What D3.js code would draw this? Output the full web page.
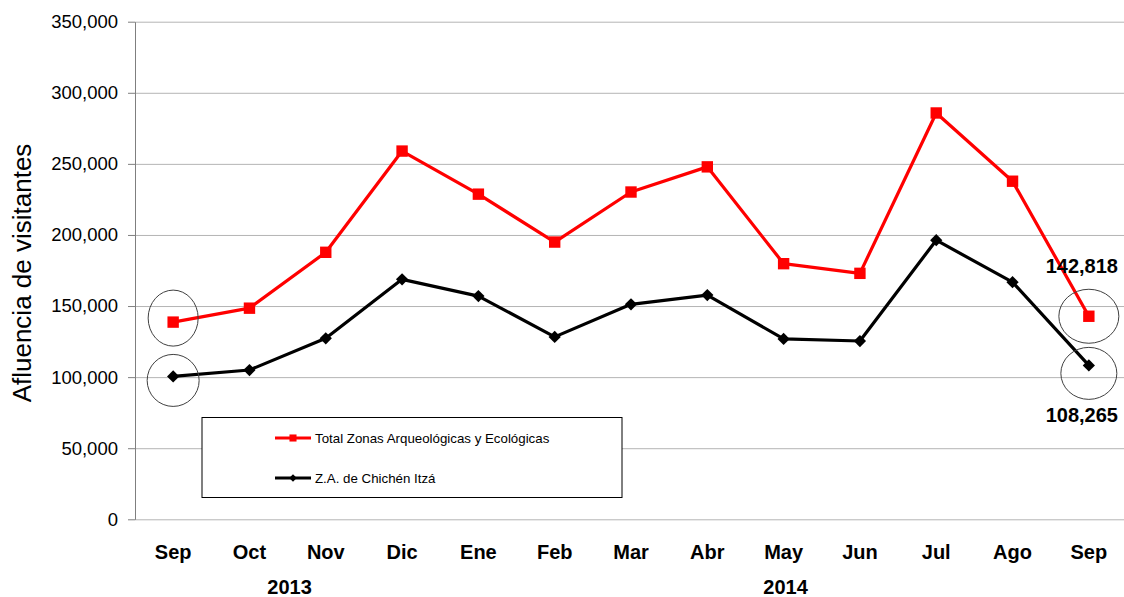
<!DOCTYPE html>
<html>
<head>
<meta charset="utf-8">
<script src="https://cdn.jsdelivr.net/npm/d3@7"></script>
<style>
  body { margin: 0; background: #fff; }
  text { font-family: "Liberation Sans", Arial, sans-serif; }
</style>
</head>
<body>
<div id="chart"></div>
<script>
// Data
let months = ['Sep', 'Oct', 'Nov', 'Dic', 'Ene', 'Feb', 'Mar', 'Abr', 'May', 'Jun', 'Jul', 'Ago', 'Sep']
let years = [
  { label: '2013', from: 0, to: 3 },
  { label: '2014', from: 4, to: 12 }
]
let total_zonas = [138700, 148500, 187800, 259000, 228700, 195000, 230200, 247900, 179800, 173000, 285800, 237800, 142818]
let chichen = [100500, 105000, 127300, 168800, 157000, 128300, 151200, 157700, 126900, 125400, 196300, 166800, 108265]
let y_ticks = [0, 50000, 100000, 150000, 200000, 250000, 300000, 350000]

let series = [
  { name: 'Total Zonas Arqueológicas y Ecológicas', values: total_zonas, color: '#ff0000', marker: 'square' },
  { name: 'Z.A. de Chichén Itzá', values: chichen, color: '#000000', marker: 'diamond' }
]

// circled points: series index, month index, and where the value label goes
let highlights = [
  { s: 0, i: 0, rx: 25, ry: 28, dy: -4, label: null },
  { s: 1, i: 0, rx: 26, ry: 26, dy: 4, label: null },
  { s: 0, i: 12, rx: 30, ry: 27, dy: 0, label: 'above' },
  { s: 1, i: 12, rx: 28, ry: 26, dy: 8, label: 'below' }
]

let width = 1124, height = 597
let plot_left = 135, plot_right = 1127, plot_top = 21.7, plot_bottom = 519.3

let svg = d3.select('#chart')
  .append('svg')
  .attr('width', width)
  .attr('height', height)

let x = d3.scaleBand()
  .domain(d3.range(months.length))
  .range([plot_left, plot_right])
  .padding(0)

let cx = i => x(i) + x.bandwidth() / 2

let y = d3.scaleLinear()
  .domain([0, 350000])
  .range([plot_bottom, plot_top])

let fmt = d3.format(',')

// gridlines
svg.append('g')
  .attr('transform', `translate(${plot_left},0)`)
  .call(d3.axisLeft(y).tickValues(y_ticks).tickSize(-(plot_right - plot_left)).tickFormat(''))
  .call(g => g.select('.domain').remove())
  .call(g => g.selectAll('line').attr('stroke', '#b4b4b4').attr('stroke-width', 1))

// y axis with labels
svg.append('g')
  .attr('transform', `translate(${plot_left},0)`)
  .call(d3.axisLeft(y).tickValues(y_ticks).tickSizeInner(7).tickSizeOuter(0).tickPadding(10).tickFormat(fmt))
  .call(g => g.select('.domain').attr('stroke', '#7f7f7f'))
  .call(g => g.selectAll('line').attr('stroke', '#7f7f7f'))
  .call(g => g.selectAll('text')
    .style('font-family', '"Liberation Sans", Arial, sans-serif')
    .style('font-size', '18.5px')
    .attr('fill', '#000'))

// x axis month labels
svg.append('g')
  .attr('transform', `translate(0,${plot_bottom})`)
  .call(d3.axisBottom(x).tickSize(0).tickPadding(26).tickFormat(i => months[i]))
  .call(g => g.select('.domain').remove())
  .call(g => g.selectAll('text')
    .style('font-family', '"Liberation Sans", Arial, sans-serif')
    .style('font-size', '20px')
    .style('font-weight', 'bold')
    .attr('fill', '#000'))

// year labels centred under their months
svg.selectAll('.year')
  .data(years)
  .enter()
  .append('text')
  .attr('class', 'year')
  .attr('x', d => (cx(d.from) + cx(d.to)) / 2 + 2)
  .attr('y', 594)
  .attr('text-anchor', 'middle')
  .style('font-size', '20px')
  .style('font-weight', 'bold')
  .text(d => d.label)

// y title
svg.append('text')
  .attr('transform', `translate(31,273) rotate(-90)`)
  .attr('text-anchor', 'middle')
  .style('font-size', '26px')
  .text('Afluencia de visitantes')

// lines and markers
let line = d3.line()
  .x((d, i) => cx(i))
  .y(d => y(d))

series.forEach(s => {
  svg.append('path')
    .datum(s.values)
    .attr('d', line)
    .attr('fill', 'none')
    .attr('stroke', s.color)
    .attr('stroke-width', 3.2)
    .attr('stroke-linejoin', 'round')

  let size = s.marker == 'square' ? 130 : 75
  let rot = s.marker == 'square' ? 0 : 45
  svg.selectAll(null)
    .data(s.values)
    .enter()
    .append('path')
    .attr('d', d3.symbol().type(d3.symbolSquare).size(size))
    .attr('transform', (d, i) => `translate(${cx(i)},${y(d)}) rotate(${rot})`)
    .attr('fill', s.color)
})

// circles around first and last values
svg.selectAll('.ring')
  .data(highlights)
  .enter()
  .append('ellipse')
  .attr('class', 'ring')
  .attr('cx', d => cx(d.i))
  .attr('cy', d => y(series[d.s].values[d.i]) + d.dy)
  .attr('rx', d => d.rx)
  .attr('ry', d => d.ry)
  .attr('fill', 'none')
  .attr('stroke', '#404040')
  .attr('stroke-width', 1)

svg.selectAll('.valuelabel')
  .data(highlights.filter(d => d.label))
  .enter()
  .append('text')
  .attr('class', 'valuelabel')
  .attr('x', d => cx(d.i) - 7)
  .attr('y', d => d.label == 'above' ? y(series[d.s].values[d.i]) - 43 : y(series[d.s].values[d.i]) + 57)
  .attr('text-anchor', 'middle')
  .style('font-size', '20px')
  .style('font-weight', 'bold')
  .text(d => fmt(series[d.s].values[d.i]))

// legend
let legend = svg.append('g')
legend.append('rect')
  .attr('x', 202)
  .attr('y', 417.5)
  .attr('width', 420)
  .attr('height', 80)
  .attr('fill', '#fff')
  .attr('stroke', '#000')
  .attr('stroke-width', 1)

series.forEach((s, k) => {
  let ly = 438 + k * 40
  legend.append('line')
    .attr('x1', 275).attr('x2', 311)
    .attr('y1', ly).attr('y2', ly)
    .attr('stroke', s.color)
    .attr('stroke-width', 3)
  legend.append('path')
    .attr('d', d3.symbol().type(d3.symbolSquare).size(s.marker == 'square' ? 50 : 28))
    .attr('transform', `translate(293,${ly}) rotate(${s.marker == 'square' ? 0 : 45})`)
    .attr('fill', s.color)
  legend.append('text')
    .attr('x', 315)
    .attr('y', ly + 4.5)
    .style('font-size', '13.3px')
    .text(s.name)
})
</script>
</body>
</html>
